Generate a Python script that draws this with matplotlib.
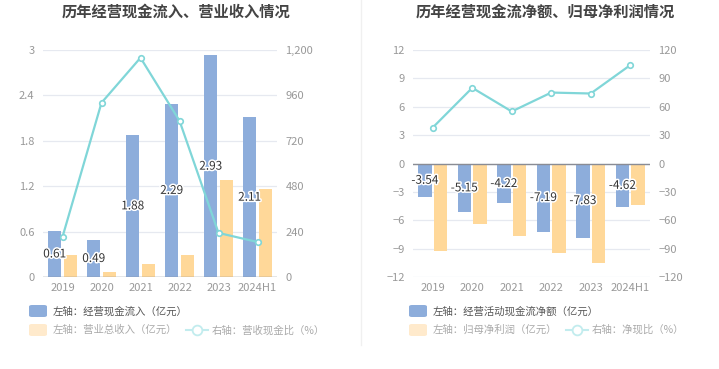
import matplotlib
matplotlib.use("Agg")
import matplotlib.pyplot as plt
import matplotlib.patheffects as pe
from matplotlib.lines import Line2D
import numpy as np

plt.rcParams['font.family'] = ['Noto Sans CJK SC', 'DejaVu Sans']

categories = ["2019", "2020", "2021", "2022", "2023", "2024H1"]
# left chart
cash_inflow = [0.61, 0.49, 1.88, 2.29, 2.93, 2.11]
revenue = [0.29, 0.06, 0.17, 0.29, 1.28, 1.16]
cash_ratio = [212, 921, 1159, 826, 233, 185]
# right chart
net_cash = [-3.54, -5.15, -4.22, -7.19, -7.83, -4.62]
net_profit = [-9.25, -6.39, -7.66, -9.46, -10.48, -4.41]
net_ratio = [38, 80, 55, 75, 74, 104]

BLUE = "#8DADDB"
ORANGE = "#FFD899"
TEAL = "#80D6D8"
GRID = "#E6E9F0"
TICK = "#999999"
AXIS = "#8A8C94"

W, H = 719, 369
fig = plt.figure(figsize=(W / 100, H / 100), dpi=100)

def px_axes(x0, y0, x1, y1):
    return fig.add_axes([x0 / W, 1 - y1 / H, (x1 - x0) / W, (y1 - y0) / H])

x = np.arange(len(categories))
bw = 0.34
off = 0.2

def style(ax, ax2):
    for a in (ax, ax2):
        for s in a.spines.values():
            s.set_visible(False)
        a.tick_params(length=0, labelsize=8, colors=TICK)
    ax.set_xticks(x)
    ax.set_xticklabels(categories)
    ax.tick_params(axis='x', pad=4)
    ax.tick_params(axis='y', pad=6)
    ax2.tick_params(axis='y', pad=6)
    ax.set_xlim(-0.5, len(categories) - 0.5)
    ax.yaxis.grid(True, color=GRID, linewidth=0.9)
    ax.set_axisbelow(True)

label_fx = [pe.withStroke(linewidth=2.2, foreground="white")]

# ---------- left chart ----------
ax = px_axes(43, 50, 277, 277)
ax2 = ax.twinx()
ax.bar(x - off, cash_inflow, width=bw, color=BLUE, zorder=2)
ax.bar(x + off, revenue, width=bw, color=ORANGE, zorder=2)
ax.set_ylim(0, 3)
ax.set_yticks([0, 0.6, 1.2, 1.8, 2.4, 3])
ax.set_yticklabels(["0", "0.6", "1.2", "1.8", "2.4", "3"])
ax2.set_ylim(0, 1200)
ax2.set_yticks([0, 240, 480, 720, 960, 1200])
ax2.set_yticklabels(["0", "240", "480", "720", "960", "1,200"])
ax2.plot(x, cash_ratio, color=TEAL, linewidth=1.6, marker='o', markersize=4,
         markerfacecolor='white', markeredgecolor=TEAL, markeredgewidth=1.2, zorder=3)
style(ax, ax2)
ax.axhline(0, color=AXIS, linewidth=1, zorder=3)
for xi, v in zip(x, cash_inflow):
    ax2.text(xi - off, v / 2 * 400, f"{v:.2f}", ha='center', va='center', fontsize=8.5,
             color="#333333", path_effects=label_fx, zorder=5)

# ---------- right chart ----------
bx = px_axes(413, 50, 650, 277)
bx2 = bx.twinx()
bx.bar(x - off, net_cash, width=bw, color=BLUE, zorder=2)
bx.bar(x + off, net_profit, width=bw, color=ORANGE, zorder=2)
bx.set_ylim(-12, 12)
bx.set_yticks([-12, -9, -6, -3, 0, 3, 6, 9, 12])
bx2.set_ylim(-120, 120)
bx2.set_yticks([-120, -90, -60, -30, 0, 30, 60, 90, 120])
bx2.plot(x, net_ratio, color=TEAL, linewidth=1.6, marker='o', markersize=4,
         markerfacecolor='white', markeredgecolor=TEAL, markeredgewidth=1.2, zorder=3)
style(bx, bx2)
bx.axhline(0, color=AXIS, linewidth=1, zorder=3)
for xi, v in zip(x, net_cash):
    bx2.text(xi - off, v / 2 * 10, f"{v:.2f}", ha='center', va='center', fontsize=8.5,
             color="#333333", path_effects=label_fx, zorder=5)

# ---------- titles ----------
fig.text(176 / W, 1 - 12 / H, "历年经营现金流入、营业收入情况", ha='center', va='center',
         fontsize=11, fontweight='bold', color="#444444")
fig.text(545 / W, 1 - 12 / H, "历年经营现金流净额、归母净利润情况", ha='center', va='center',
         fontsize=11, fontweight='bold', color="#444444")

# divider
fig.add_artist(Line2D([361 / W, 361 / W], [1 - 345 / H, 1.0], color="#F0F0F0", linewidth=1))

# ---------- legends ----------
LEG_TXT = "#555555"
LEG_TXT2 = "#AAAAAA"

def patch(xp, yp, color):
    fig.add_artist(matplotlib.patches.FancyBboxPatch(
        (xp / W, 1 - (yp + 6) / H), 18 / W, 12 / H,
        boxstyle=f"round,pad=0,rounding_size={3 / W}", transform=fig.transFigure,
        facecolor=color, edgecolor='none'))

def linemark(xp, yp):
    yf = 1 - yp / H
    fig.add_artist(Line2D([xp / W, (xp + 22) / W], [yf, yf], color="#C2ECEE", linewidth=1.5))
    fig.add_artist(Line2D([(xp + 11) / W], [yf], marker='o', markersize=7,
                          markerfacecolor='white', markeredgecolor="#C2ECEE", markeredgewidth=1.3))

def legend_block(x0, t1, t2, t3, x3):
    patch(x0, 311, BLUE)
    fig.text((x0 + 24) / W, 1 - 311 / H, t1, ha='left', va='center', fontsize=7.5, color=LEG_TXT)
    patch(x0, 330, "#FFEACC")
    fig.text((x0 + 24) / W, 1 - 330 / H, t2, ha='left', va='center', fontsize=7.5, color=LEG_TXT2)
    linemark(x3, 330)
    fig.text((x3 + 26) / W, 1 - 330 / H, t3, ha='left', va='center', fontsize=7.5, color=LEG_TXT2)

legend_block(29, "左轴：经营现金流入（亿元）", "左轴：营业总收入（亿元）", "右轴：营收现金比（%）", 186)
legend_block(409, "左轴：经营活动现金流净额（亿元）", "左轴：归母净利润（亿元）", "右轴：净现比（%）", 566)

fig.savefig("out.png", dpi=100)
